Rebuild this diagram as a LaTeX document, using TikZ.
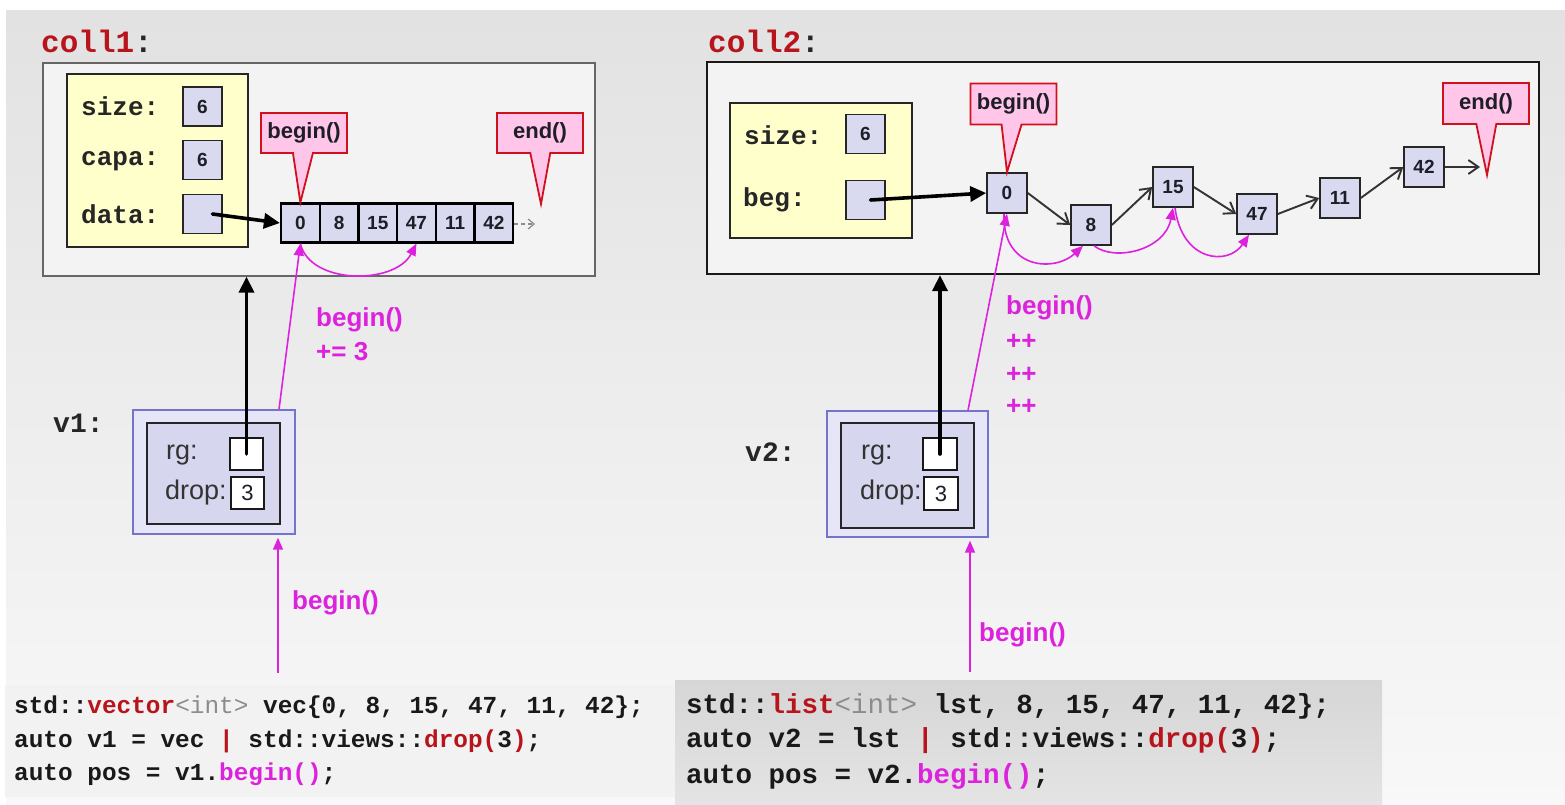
\documentclass[tikz,border=0pt]{standalone}
\usepackage{fontspec}
\setmainfont{Liberation Sans}
\newfontfamily\monofont{Liberation Mono}
\usetikzlibrary{arrows.meta,shapes.callouts}

\definecolor{bgtop}{HTML}{E2E2E2}
\definecolor{bgbot}{HTML}{F8F8F8}
\definecolor{panel}{HTML}{F3F3F3}
\definecolor{memo}{HTML}{FFFFCC}
\definecolor{cell}{HTML}{D9D9F0}
\definecolor{calloutfill}{HTML}{FFC6EA}
\definecolor{calloutline}{HTML}{D0101C}
\definecolor{iter}{HTML}{DD22DD}
\definecolor{keyred}{HTML}{B8141C}
\definecolor{viewouter}{HTML}{E6E6F8}
\definecolor{viewline}{HTML}{7474CC}
\definecolor{viewinner}{HTML}{D6D6EE}
\definecolor{codebg}{HTML}{F2F2F2}
\definecolor{codetop}{HTML}{D6D6D6}
\definecolor{codebot}{HTML}{E4E4E4}
\definecolor{ink}{HTML}{1E1E28}

\tikzset{
  panelbox/.style={fill=panel, inner sep=0pt},
  memobox/.style={draw=black!85, line width=1.5pt, fill=memo, inner sep=0pt},
  valbox/.style={draw=black!85, line width=1.6pt, fill=cell, minimum width=39pt,
    minimum height=39pt, inner sep=0pt, text=ink, font={\bfseries\fontsize{19}{19}\selectfont}},
  arrcell/.style={draw=black, line width=2.2pt, fill=cell, minimum width=38.7pt,
    minimum height=39pt, inner sep=0pt, text=ink, font={\bfseries\fontsize{19}{19}\selectfont}},
  membername/.style={anchor=west, inner sep=0pt, text=black!85,
    font={\monofont\bfseries\fontsize{26}{26}\selectfont}},
  varname/.style={anchor=west, inner sep=0pt, text=black!85,
    font={\monofont\bfseries\fontsize{28}{28}\selectfont}},
  collname/.style={anchor=west, inner sep=0pt, text=black!85,
    font={\monofont\bfseries\fontsize{31}{31}\selectfont}},
  fieldname/.style={anchor=west, inner sep=0pt, text=black!80,
    font={\fontsize{27}{27}\selectfont}},
  pointerbox/.style={rectangle callout, draw=calloutline, line width=1.8pt,
    fill=calloutfill, minimum width=86pt, minimum height=40pt, inner sep=0pt,
    callout pointer width=20pt, text=ink, font={\bfseries\fontsize{22}{22}\selectfont}},
  viewout/.style={draw=viewline, line width=1.4pt, fill=viewouter, inner sep=0pt},
  viewin/.style={draw=black!85, line width=2.2pt, fill=viewinner, inner sep=0pt},
  slot/.style={draw=black!90, line width=1.8pt, fill=white, inner sep=0pt,
    text=ink, font={\fontsize{22}{22}\selectfont}},
  ownarrow/.style={line width=3.6pt, line cap=round, -{Triangle[length=16pt,width=15pt]}},
  linkarrow/.style={line width=1.9pt, draw=black!80, -{Straight Barb[length=10pt,width=14pt]}},
  iterarrow/.style={draw=iter, line width=1.6pt, -{Triangle[length=12pt,width=10pt]}},
  iterlabel/.style={anchor=west, inner sep=0pt, text=iter,
    font={\bfseries\fontsize{26}{26}\selectfont}},
  codeA/.style={anchor=west, inner sep=0pt, text=black!90,
    font={\frenchspacing\monofont\bfseries\fontsize{24.4}{24.4}\selectfont}},
  codeB/.style={anchor=west, inner sep=0pt, text=black!90,
    font={\frenchspacing\monofont\bfseries\fontsize{27.5}{27.5}\selectfont}}
}

\begin{document}
\begin{tikzpicture}[x=1pt,y=-1pt]
\useasboundingbox (0,0) rectangle (1565,805);

% backdrop and code panels
\fill[white] (0,0) rectangle (1565,805);
\shade[top color=bgtop, bottom color=bgbot] (6,11) rectangle (1565,805);
\fill[codebg] (5,685) rectangle (680,797);
\shade[top color=codetop, bottom color=codebot] (675,680) rectangle (1382,805);

% ---------------- vector side ----------------
\node[collname] (coll1name) at (41,41) {\textcolor{keyred}{coll1}:};
\node[panelbox, draw=black!60, line width=1.3pt, minimum width=552pt, minimum height=213pt]
  (coll1box) at (319,169.5) {};
\node[memobox, minimum width=181pt, minimum height=173pt] (memo1) at (157.5,160.5) {};
\node[membername] (sizeL1) at (81,106) {size:};
\node[membername] (capaL1) at (81,161) {capa:};
\node[membername] (dataL1) at (81,214) {data:};
\node[valbox] (size1) at (202.5,106.5) {6};
\node[valbox] (capa1) at (202.5,160) {6};
\node[valbox] (data1) at (202.5,214) {};

\foreach \v [count=\i from 0] in {0,8,15,47,11,42}
  \node[arrcell] (c\i) at ({281+38.7*(\i+0.5)},223) {\v};

\coordinate (past1) at (535,224);
\draw[draw=black!45, line width=1.2pt, dash pattern=on 4pt off 3pt,
  -{Straight Barb[length=6pt,width=10pt]}] (c5.east |- past1) -- (past1);

\coordinate (endtip1) at (541,204);
\node[pointerbox, callout absolute pointer={(c0.north)}] (begin1) at (304,133) {begin()};
\node[pointerbox, callout absolute pointer={(endtip1)}] (end1) at (540,133) {end()};

\draw[ownarrow] ([xshift=10pt]data1.center) -- (c0.west);

% view v1
\node[varname] (v1name) at (53,423) {v1:};
\node[viewout, minimum width=162pt, minimum height=124pt] (v1out) at (214,472) {};
\node[viewin, minimum width=133pt, minimum height=101pt] (v1in) at (213.5,473.5) {};
\node[fieldname] (rgL1) at (166,455) {rg:};
\node[fieldname] (dropL1) at (165,493) {drop:};
\node[slot, minimum width=33pt, minimum height=32pt] (rg1) at (246.5,454) {};
\node[slot, minimum width=33pt, minimum height=32pt] (drop1) at (247.5,493) {3};

\draw[ownarrow] (rg1.center) -- (rg1.center |- coll1box.south);

\draw[iterarrow] ([xshift=65pt]v1out.north) -- (c0.south);
\draw[iterarrow] (c0.south) .. controls (310,285) and (395,285) .. (c3.south);
\node[iterlabel] (adv1a) at (316,320) {begin()};
\node[iterlabel] (adv1b) at (316,352) {+= 3};

\coordinate (src1) at (278,673);
\draw[iterarrow] (src1) -- ([yshift=-3pt]src1 |- v1out.south);
\node[iterlabel] (call1) at (292,603) {begin()};

% ---------------- list side ----------------
\node[collname] (coll2name) at (708,41) {\textcolor{keyred}{coll2}:};
\node[panelbox, draw=black!90, line width=2.2pt, minimum width=832pt, minimum height=212pt]
  (coll2box) at (1123,168) {};
\node[memobox, minimum width=182pt, minimum height=135pt] (memo2) at (821,170.5) {};
\node[membername] (sizeL2) at (744,135) {size:};
\node[membername] (begL2) at (743,200) {beg:};
\node[valbox] (size2) at (865.5,134) {6};
\node[valbox] (beg2) at (865.5,200) {};

\node[valbox, minimum width=40pt, minimum height=40pt] (l0) at (1007,193) {0};
\node[valbox, minimum width=40pt, minimum height=40pt] (l8) at (1091,225) {8};
\node[valbox, minimum width=40pt, minimum height=40pt] (l15) at (1173,187) {15};
\node[valbox, minimum width=40pt, minimum height=40pt] (l47) at (1257,214) {47};
\node[valbox, minimum width=40pt, minimum height=40pt] (l11) at (1340,198) {11};
\node[valbox, minimum width=40pt, minimum height=40pt] (l42) at (1424,167) {42};

\coordinate (past2) at (1480,167);
\draw[linkarrow] (l0.east) -- (l8.west);
\draw[linkarrow] (l8.east) -- (l15.west);
\draw[linkarrow] (l15.east) -- (l47.west);
\draw[linkarrow] (l47.east) -- (l11.west);
\draw[linkarrow] (l11.east) -- (l42.west);
\draw[linkarrow] (l42.east) -- (past2);

\coordinate (endtip2) at (1487,175);
\node[pointerbox, minimum height=41pt, callout absolute pointer={(l0.north)}] (begin2) at (1013.5,104) {begin()};
\node[pointerbox, minimum height=41pt, callout absolute pointer={(endtip2)}] (end2) at (1486,103.5) {end()};

\draw[ownarrow] ([xshift=5pt]beg2.center) -- (l0.west);

% view v2
\node[varname] (v2name) at (745,452) {v2:};
\node[viewout, minimum width=161pt, minimum height=126pt] (v2out) at (907.5,474) {};
\node[viewin, minimum width=133pt, minimum height=105pt] (v2in) at (907.5,475.5) {};
\node[fieldname] (rgL2) at (861,455) {rg:};
\node[fieldname] (dropL2) at (860,493) {drop:};
\node[slot, minimum width=34pt, minimum height=32pt] (rg2) at (940,454) {};
\node[slot, minimum width=34pt, minimum height=33pt] (drop2) at (941,493.5) {3};

\draw[ownarrow] (rg2.center) -- (rg2.center |- coll2box.south);

\draw[iterarrow] ([xshift=60.5pt]v2out.north) -- (l0.south);
\draw[iterarrow] ([xshift=-3pt]l0.south) .. controls (1002,270) and (1055,272) .. ([xshift=-8pt]l8.south);
\draw[iterarrow] ([xshift=3pt]l8.south) .. controls (1115,262) and (1165,250) .. (l15.south);
\draw[iterarrow] ([xshift=2pt]l15.south) .. controls (1182,262) and (1228,266) .. ([xshift=-8pt]l47.south);
\node[iterlabel] (adv2a) at (1006,308) {begin()};
\node[iterlabel] (adv2b) at (1006,342) {++};
\node[iterlabel] (adv2c) at (1006,375) {++};
\node[iterlabel] (adv2d) at (1006,407) {++};

\coordinate (src2) at (970,672);
\draw[iterarrow] (src2) -- ([yshift=-3pt]src2 |- v2out.south);
\node[iterlabel] (call2) at (979,635) {begin()};

% ---------------- source code ----------------
\node[codeA] (codeA1) at (14,707)
  {std::\textcolor{keyred}{vector}\textcolor{black!45}{\mdseries<int>} vec\{0, 8, 15, 47, 11, 42\};};
\node[codeA] (codeA2) at (14,741)
  {auto v1 = vec \textcolor{keyred}{|} std::views::\textcolor{keyred}{drop(}3\textcolor{keyred}{)};};
\node[codeA] (codeA3) at (14,774)
  {auto pos = v1.\textcolor{iter}{begin()};};

\node[codeB] (codeB1) at (686,706)
  {std::\textcolor{keyred}{list}\textcolor{black!45}{\mdseries<int>} lst, 8, 15, 47, 11, 42\};};
\node[codeB] (codeB2) at (686,741)
  {auto v2 = lst \textcolor{keyred}{|} std::views::\textcolor{keyred}{drop(}3\textcolor{keyred}{)};};
\node[codeB] (codeB3) at (686,776)
  {auto pos = v2.\textcolor{iter}{begin()};};
\end{tikzpicture}
\end{document}
